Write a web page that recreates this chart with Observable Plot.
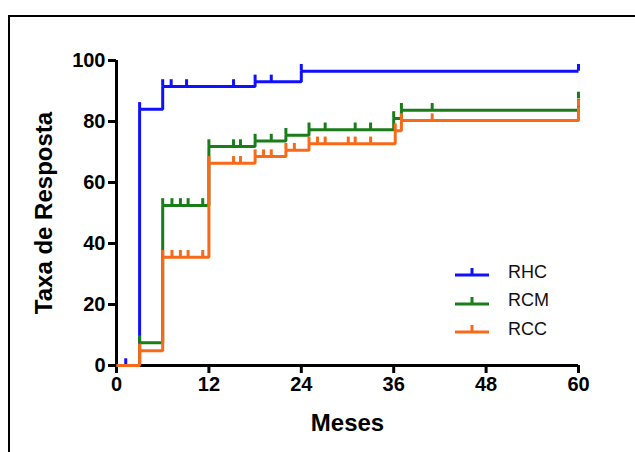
<!DOCTYPE html>
<html><head><meta charset="utf-8">
<script src="https://cdn.jsdelivr.net/npm/d3@7"></script>
<script src="https://cdn.jsdelivr.net/npm/@observablehq/plot@0.6"></script>
<style>
body{margin:0;background:#fff;}
#wrap{position:relative;width:635px;height:452px;overflow:hidden;font-family:"Liberation Sans",Arial,sans-serif;background:#fff;}
#chart{position:absolute;left:0;top:0;}
#frame{position:absolute;left:8px;top:15px;width:700px;height:600px;border:2px solid #000;box-sizing:border-box;pointer-events:none;}
#legend{position:absolute;left:455px;top:258px;}
.item{display:flex;align-items:center;height:28.5px;}
.item span{font-size:18px;margin-left:19px;color:#111;}
</style></head><body>
<div id="wrap"><div id="chart"></div><div id="frame"></div><div id="legend"></div></div>
<script>
// ---- data ----
const seriesNames = ["RHC", "RCM", "RCC"];
const seriesColors = ["#1010ff", "#1a7d1a", "#f86a1a"];

const rhcTimes  = [0, 3, 6, 18, 24, 60];
const rhcLevels = [0, 84, 91.5, 93, 96.5, 96.5];
const rhcCensored = [1.2, 3, 6, 7.1, 9.1, 15.2, 18, 20.1, 24, 60];

const rcmTimes  = [0, 3, 6, 12, 18, 22, 25, 36, 37, 60];
const rcmLevels = [0, 7.5, 52.5, 71.8, 73.6, 75.5, 77.3, 81, 83.7, 87.4];
const rcmCensored = [3, 6, 7.2, 8.3, 9.3, 11.2, 12, 15.2, 16.1, 18, 20.1, 22, 25, 27.1, 31, 33, 36, 37, 41, 60];

const rccTimes  = [0, 3, 6, 12, 18, 22, 25, 36.2, 37, 60];
const rccLevels = [0, 4.8, 35.5, 66.3, 68.5, 70.6, 72.7, 77, 80.3, 84.9];
const rccCensored = [3, 6, 7.2, 8.3, 9.3, 11.2, 12, 15.2, 16.1, 18, 19.1, 20.1, 22, 23.1, 25, 26.1, 27.1, 30.1, 31, 33, 36.2, 37, 41, 60];

const xTicks = [0, 12, 24, 36, 48, 60];
const yTicks = [0, 20, 40, 60, 80, 100];
const xTitle = "Meses";
const yTitle = "Taxa de Resposta";

// ---- build tables ----
const series = [
  {name: seriesNames[0], times: rhcTimes, levels: rhcLevels, censored: rhcCensored},
  {name: seriesNames[1], times: rcmTimes, levels: rcmLevels, censored: rcmCensored},
  {name: seriesNames[2], times: rccTimes, levels: rccLevels, censored: rccCensored}
];
function levelAt(times, levels, t) {
  let v = levels[0];
  for (let i = 0; i < times.length; i++) if (times[i] <= t + 1e-9) v = levels[i];
  return v;
}
const censorHeight = 2.2;

const seriesMarks = series.flatMap(s => {
  const steps = s.times.map((t, i) => ({name: s.name, t, v: s.levels[i]}));
  const cens = s.censored.map(t => ({name: s.name, t, v: levelAt(s.times, s.levels, t)}));
  return [
    Plot.line(steps, {x: "t", y: "v", stroke: "name", strokeWidth: 3, curve: "step-after", strokeLinejoin: "miter", strokeLinecap: "butt"}),
    Plot.ruleX(cens, {x: "t", y1: "v", y2: d => d.v + censorHeight, stroke: "name", strokeWidth: 3})
  ];
});

const chart = Plot.plot({
  width: 635, height: 452,
  marginLeft: 116, marginRight: 57, marginTop: 60, marginBottom: 87,
  style: {background: "transparent", fontFamily: "'Liberation Sans', Arial, sans-serif", fontSize: "20px", fontWeight: "bold", color: "#000"},
  x: {domain: [0, 60]},
  y: {domain: [0, 100]},
  color: {domain: seriesNames, range: seriesColors},
  marks: [
    Plot.axisX({ticks: xTicks, tickSize: 8, tickPadding: 3, strokeWidth: 3, label: null}),
    Plot.axisY({ticks: yTicks, tickSize: 8, tickPadding: 3, strokeWidth: 3, label: null}),
    Plot.ruleY([0], {x1: 0, x2: 60, strokeWidth: 3}),
    Plot.ruleX([0], {y1: 0, y2: 100, strokeWidth: 3}),
    ...seriesMarks,
    Plot.text([xTitle], {text: d => d, frameAnchor: "bottom", lineAnchor: "middle", textAnchor: "middle", dy: 58, fontSize: 24, fontWeight: "bold"}),
    Plot.text([yTitle], {text: d => d, frameAnchor: "left", lineAnchor: "middle", textAnchor: "middle", rotate: -90, dx: -72, fontSize: 24, fontWeight: "bold"})
  ]
});
document.getElementById("chart").appendChild(chart);

// ---- legend ----
const legend = document.getElementById("legend");
seriesNames.forEach((n, i) => {
  const row = document.createElement("div");
  row.className = "item";
  const c = seriesColors[i];
  row.innerHTML = `<svg width="34" height="14"><line x1="0" x2="34" y1="10" y2="10" stroke="${c}" stroke-width="3"/><line x1="17" x2="17" y1="3" y2="10" stroke="${c}" stroke-width="3"/></svg><span>${n}</span>`;
  legend.appendChild(row);
});
</script>
</body></html>
